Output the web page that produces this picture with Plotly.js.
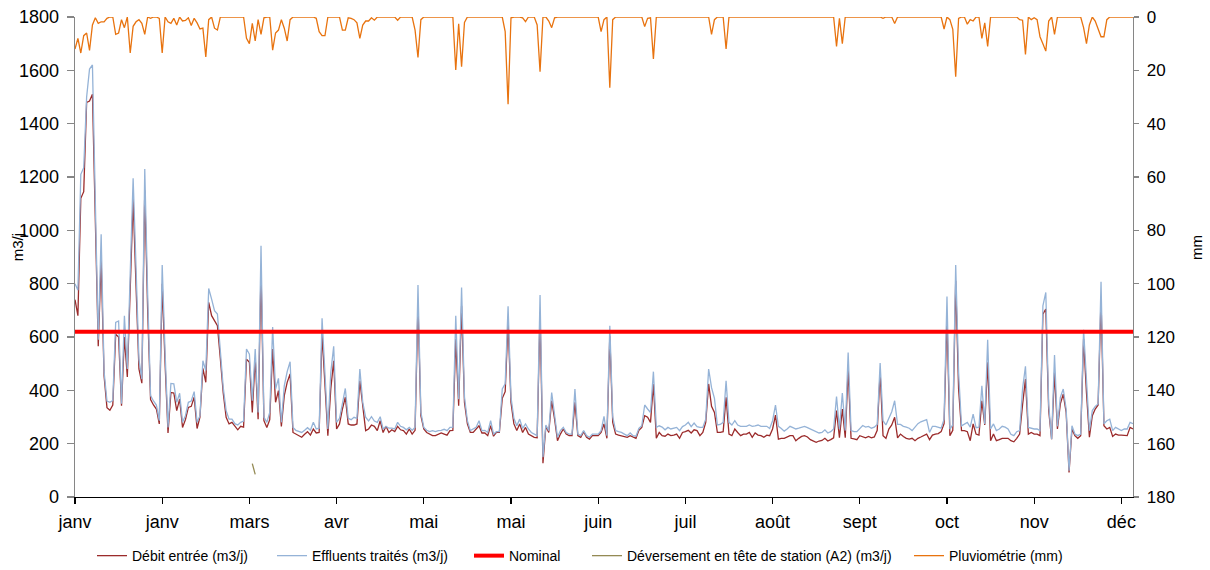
<!DOCTYPE html>
<html>
<head>
<meta charset="utf-8">
<script src="https://cdn.plot.ly/plotly-3.0.1.min.js"></script>
<style>
  html, body { margin: 0; padding: 0; background: #fff; }
  #chart { width: 1210px; height: 570px; }
</style>
</head>
<body>
<div id="chart"></div>
<script>
// ---- Data (daily values, day 0 .. 364) ----
const tickLabels = ["janv", "janv", "mars", "avr", "mai", "mai", "juin", "juil", "août", "sept", "oct", "nov", "déc"];
const tickDays = [0, 30, 60, 90, 120, 150, 180, 210, 240, 270, 300, 330, 360];

const debitEntree = [
  740,680,1120,1145,1480,1485,1510,1040,565,890,
  455,335,325,345,610,600,342,600,450,780,
  1117,790,480,427,1150,700,365,345,330,274,
  800,500,240,392,390,324,367,261,290,336,
  340,374,257,300,482,430,730,680,661,642,
  520,390,299,274,280,265,252,265,262,517,
  505,317,520,292,845,286,261,290,555,355,
  399,265,380,430,461,242,236,230,224,235,
  245,232,255,240,242,611,405,230,405,511,
  255,274,330,374,274,270,270,274,436,330,
  249,255,270,265,249,286,242,265,242,252,
  245,265,252,249,236,255,236,250,724,305,
  255,242,236,230,230,236,240,236,232,249,
  250,592,342,717,355,274,242,242,255,267,
  240,240,230,267,228,242,242,370,395,655,
  355,274,249,274,242,261,236,230,224,222,
  692,127,265,242,361,292,211,236,255,236,
  230,230,355,230,224,245,224,217,230,230,
  230,242,274,220,605,280,236,232,230,227,
  224,230,224,220,250,261,305,299,280,424,
  220,242,230,228,236,230,232,236,220,242,
  245,250,240,252,249,230,242,280,424,340,
  317,242,242,245,374,236,230,255,242,230,
  236,236,242,224,240,232,230,224,232,230,
  255,307,217,220,220,224,230,230,211,220,
  227,230,225,215,210,205,210,212,220,210,
  215,222,324,222,330,222,480,220,218,215,
  230,227,222,227,222,225,250,467,230,220,
  255,270,299,222,236,227,220,217,220,211,
  220,225,230,236,215,232,236,238,245,275,
  674,230,250,811,405,249,249,245,211,274,
  236,232,361,270,505,211,236,211,215,220,
  220,220,211,207,220,236,345,442,236,242,
  236,236,230,686,705,324,217,467,255,349,
  386,317,92,255,230,220,230,592,390,224,
  305,330,345,742,267,255,261,227,236,232,
  232,230,230,261,255
];

const effluentsTraites = [
  800,775,1210,1235,1500,1605,1620,1100,590,985,
  470,360,355,362,655,660,350,680,480,840,
  1195,860,515,442,1230,760,380,360,345,286,
  870,540,261,426,424,355,389,280,305,355,
  360,395,280,305,511,474,782,742,699,686,
  550,410,324,292,292,275,270,280,285,555,
  536,361,555,317,942,300,280,317,637,405,
  445,280,417,470,507,261,250,245,242,250,
  260,250,280,255,258,670,440,255,467,565,
  280,295,350,407,295,290,299,295,480,355,
  299,285,301,285,280,301,255,265,258,258,
  255,280,265,261,252,261,250,262,795,317,
  261,250,245,249,245,249,250,254,249,261,
  262,680,367,786,375,286,249,255,261,286,
  249,250,242,286,236,245,245,405,424,715,
  374,295,267,292,257,274,255,242,236,230,
  757,149,270,249,392,305,224,249,261,242,
  236,236,405,236,230,249,230,224,236,236,
  236,249,302,230,642,300,249,245,242,236,
  230,240,230,228,257,267,345,330,317,470,
  261,267,262,252,261,255,257,261,249,264,
  270,280,264,277,264,261,261,292,480,410,
  370,270,272,280,436,280,270,286,270,265,
  265,265,270,265,267,270,265,265,265,257,
  286,345,265,257,247,255,265,260,255,258,
  262,265,260,255,250,245,240,242,252,240,
  245,255,377,255,390,249,542,249,245,245,
  258,268,262,265,258,262,272,502,286,270,
  295,320,361,272,272,265,262,258,249,262,
  275,282,285,290,242,265,265,260,258,292,
  752,255,270,870,467,267,275,280,262,311,
  260,262,417,274,590,255,274,249,255,265,
  262,255,235,230,245,249,405,490,261,258,
  255,255,249,717,767,345,217,532,265,374,
  405,330,99,267,236,230,236,627,420,249,
  324,340,349,807,275,286,292,249,261,255,
  249,255,255,280,275
];

const pluviometrie = [
  12,8,13.5,7,6,12.5,3,0.3,2.4,1.8,
  1.8,0.5,0,0,6.5,6,1,4,0,13.5,
  3.5,1.8,1,2.4,6.5,0,0.5,0,0,0.5,
  13.5,0,1.8,2.4,0.5,3,0,1.5,1.3,0.3,
  3.2,0.5,2.2,4.5,4.2,15,1,0,4.2,4.9,
  0,0,0,0,0,0,0,0,0,8,
  10,2.4,9,1,6.5,0.3,0,0,12.4,6,
  4.9,1,4.2,9,1,0,0,0,0,0,
  0,0,0,0.5,5.5,7,7,0,0,0,
  0,0,4.9,4.9,0.3,0.5,1,2.2,8,3,
  1.5,1.5,0.3,1.2,0,0,0,0,0,0,
  0,1.2,0,0,0,0,0,4.9,15.2,1,
  0,0,0,0,0,0,0,0,0,0,
  0,19.9,2.5,18.6,2,0,0,0,0,0,
  0,0,0,0,0,0,0,0,5.5,32.7,
  0.3,0,0,0,0.3,1.7,0,0,0,3,
  20.5,0,0,1.5,4,0.3,0,0,0,0,
  0,0,0,0,0,0,0,0,0,0,
  0,5.5,1,0,26.5,1,0,0,0,0,
  0,0,0,0,0,0,3.6,0.5,0.3,15.7,
  0,0,0,0,0,0,0,0,0,0,
  0,0,0,0,0,0,0,0,0,6.5,
  1,0,0,0,12,0,0,0,0,0,
  0,0,0,0,0,0,0,0,0,0,
  0,0,0,0,0,0,0,0,0,0,
  0,0,0,0,0,0,0,0,0,0,
  0,0,11,0.5,10,0,0,0,0,0,
  0,0,0,0,0,0,0,0,0.5,0,
  0,0,2.4,0,0,0,0,0,0,0,
  0,0,0,0,0,0,0,0,0,4.5,
  0,1,4.6,22.4,0.5,0,0,2.7,1,1.5,
  0,0,8,2.2,11,0,0,0,0,0,
  0,0,0,0,0,1,1.2,14,0,1,
  0.3,1,7.4,10,12.8,1.5,0,6.5,0,0,
  0,0,0,0,0,0,0,4,10,3,
  0,1.5,4.5,7.4,7.4,1,0,0,0,0,
  0,0,0,0,0
];

const nominalValue = 620;
const deversementDays = [61, 62];
const deversementValues = [125, 85];

// ---- Build chart ----
const days = debitEntree.map((_, i) => i);
const lastDay = days[days.length - 1];
const FONT = '"Liberation Sans", Arial, sans-serif';

const traces = [
  { type: 'scatter', mode: 'lines', name: 'Débit entrée (m3/j)', x: days, y: debitEntree,
    line: { color: '#9B2B2B', width: 1.3 }, yaxis: 'y', legend: 'legend' },
  { type: 'scatter', mode: 'lines', name: 'Effluents traités (m3/j)', x: days, y: effluentsTraites,
    line: { color: '#95B3D7', width: 1.3 }, yaxis: 'y', legend: 'legend2' },
  { type: 'scatter', mode: 'lines', name: 'Nominal', x: [days[0], lastDay], y: [nominalValue, nominalValue],
    line: { color: '#FF0000', width: 4 }, yaxis: 'y', legend: 'legend3' },
  { type: 'scatter', mode: 'lines', name: 'Déversement en tête de station (A2) (m3/j)', x: deversementDays, y: deversementValues,
    line: { color: '#948A54', width: 1.3 }, yaxis: 'y', legend: 'legend4' },
  { type: 'scatter', mode: 'lines', name: 'Pluviométrie (mm)', x: days, y: pluviometrie,
    line: { color: '#E8730F', width: 1.3 }, yaxis: 'y2', legend: 'legend5' }
];

// plot area: x 75..1133, y 17..497
const PL = 75, PW = 1058;
const legendY = -0.123;
function leg(px) {
  return {
    orientation: 'h', x: (px - PL) / PW, xanchor: 'left', y: legendY, yanchor: 'middle',
    font: { family: FONT, size: 14, color: '#000000' }, itemwidth: 30,
    bgcolor: 'rgba(0,0,0,0)', borderwidth: 0
  };
}

const layout = {
  width: 1210, height: 570,
  margin: { l: 75, r: 77, t: 17, b: 73, autoexpand: false },
  paper_bgcolor: '#ffffff', plot_bgcolor: '#ffffff',
  font: { family: FONT, color: '#000000', size: 17 },
  showlegend: true,
  legend: leg(92), legend2: leg(272), legend3: leg(469), legend4: leg(587), legend5: leg(909),
  xaxis: {
    range: [0, lastDay], tickmode: 'array', tickvals: tickDays, ticktext: tickLabels,
    showgrid: false, zeroline: false, showline: true, linecolor: '#000000', linewidth: 1.3,
    ticks: 'outside', ticklen: 6, tickcolor: '#000000', tickwidth: 1.3,
    ticklabelstandoff: 2, tickfont: { family: FONT, size: 18, color: '#000000' },
    fixedrange: true
  },
  xaxis2: {
    overlaying: 'x', anchor: 'y', side: 'bottom', range: [0, lastDay], tickmode: 'array', tickvals: tickDays,
    showticklabels: false, showgrid: false, zeroline: false, showline: false,
    ticks: 'inside', ticklen: 6, tickcolor: '#000000', tickwidth: 1.3
  },
  yaxis: {
    range: [0, 1800], dtick: 200, tick0: 0,
    showgrid: false, zeroline: false, showline: true, linecolor: '#868686', linewidth: 1.3,
    ticks: 'outside', ticklen: 7, tickcolor: '#868686', tickwidth: 1.3,
    tickfont: { family: FONT, size: 18, color: '#000000' }, ticklabelstandoff: 4
  },
  yaxis3: {
    overlaying: 'y', anchor: 'x', side: 'left', range: [0, 1800], dtick: 200, tick0: 0,
    showticklabels: false, showgrid: false, zeroline: false, showline: false,
    ticks: 'inside', ticklen: 6, tickcolor: '#868686', tickwidth: 1.3
  },
  yaxis2: {
    overlaying: 'y', side: 'right', range: [180, 0], dtick: 20, tick0: 0,
    showgrid: false, zeroline: false, showline: true, linecolor: '#868686', linewidth: 1.3,
    ticks: 'outside', ticklen: 5, tickcolor: '#868686', tickwidth: 1.3,
    tickfont: { family: FONT, size: 17, color: '#000000' }, ticklabelstandoff: 4
  },
  annotations: [
    { text: 'm3/j', xref: 'paper', yref: 'paper', x: -0.054, y: 0.52, xanchor: 'center', yanchor: 'middle',
      textangle: -90, showarrow: false, font: { family: FONT, size: 15, color: '#000000' } },
    { text: 'mm', xref: 'paper', yref: 'paper', x: 1.06, y: 0.52, xanchor: 'center', yanchor: 'middle',
      textangle: -90, showarrow: false, font: { family: FONT, size: 15, color: '#000000' } }
  ]
};

Plotly.newPlot('chart', traces, layout, { displayModeBar: false, staticPlot: true });
</script>
</body>
</html>
